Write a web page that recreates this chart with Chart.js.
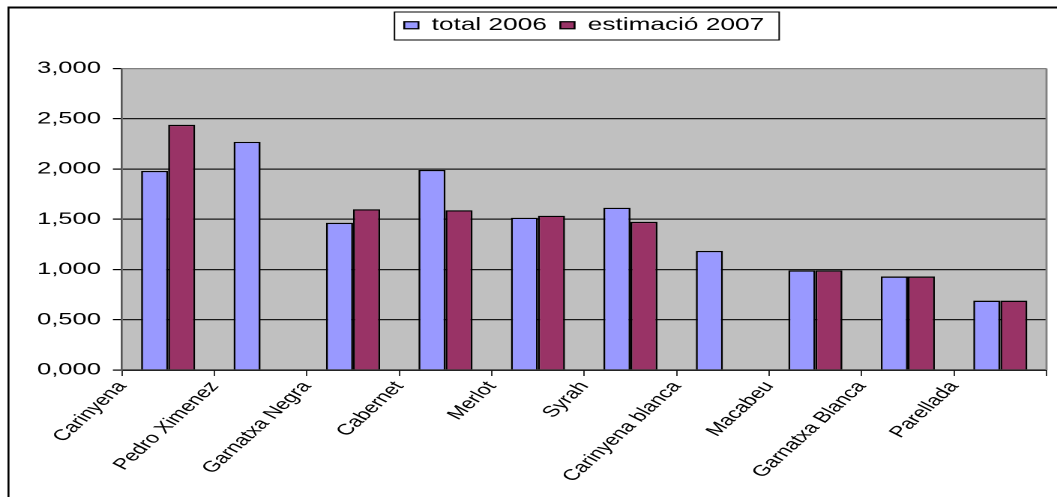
<!DOCTYPE html>
<html>
<head>
<meta charset="utf-8">
<title>Varietats de raïm</title>
<script src="https://cdn.jsdelivr.net/npm/chart.js@4.4.1/dist/chart.umd.min.js"></script>
<style>
  html, body { margin: 0; padding: 0; background: #fff; overflow: hidden; }
  /* the reference picture is stretched sideways, so the chart is drawn narrow and widened */
  #wrap { width: 705px; height: 497px; transform: scaleX(1.4993); transform-origin: 0 0; }
</style>
</head>
<body>
<div id="wrap"><canvas id="chart" width="705" height="497"></canvas></div>
<script>
// data
const categories = ['Carinyena', 'Pedro Ximenez', 'Garnatxa Negra', 'Cabernet', 'Merlot', 'Syrah', 'Carinyena blanca', 'Macabeu', 'Garnatxa Blanca', 'Parellada'];
const total2006 = [1.98, 2.27, 1.465, 1.99, 1.515, 1.615, 1.185, 0.99, 0.93, 0.69];
const estimacio2007 = [2.44, null, 1.60, 1.59, 1.535, 1.475, null, 0.99, 0.93, 0.69];
const yTickLabels = ['0,000', '0,500', '1,000', '1,500', '2,000', '2,500', '3,000'];

const FONT = '"Liberation Sans", Arial, sans-serif';

// grey plot area, framed legend and the outer chart border
const excelFrame = {
  id: 'excelFrame',
  beforeLayout(chart) {
    const legend = chart.legend;
    if (legend && !legend._spaced) {
      const fit = legend.fit;
      legend.fit = function () {
        fit.call(this);
        this.height += 24.5; // gap between legend and plot
      };
      legend._spaced = true;
    }
  },
  beforeDraw(chart) {
    const { ctx, chartArea: a } = chart;
    ctx.save();
    ctx.fillStyle = '#c0c0c0';
    ctx.fillRect(a.left, a.top, a.right - a.left, a.bottom - a.top);
    ctx.restore();
  },
  afterDraw(chart) {
    const { ctx, chartArea: a, legend } = chart;
    ctx.save();
    ctx.strokeStyle = '#808080';
    ctx.lineWidth = 1.4;
    ctx.beginPath();
    ctx.moveTo(a.right, a.top);
    ctx.lineTo(a.right, a.bottom);
    ctx.stroke();

    const boxes = legend.legendHitBoxes;
    if (boxes && boxes.length) {
      const first = boxes[0];
      const last = boxes[boxes.length - 1];
      const left = first.left - 6.5;
      const right = last.left + last.width + 10;
      ctx.strokeStyle = '#000';
      ctx.lineWidth = 1;
      ctx.strokeRect(left, first.top - 4.5, right - left, first.height + 10.5);
    }

    ctx.fillStyle = '#000';
    ctx.fillRect(5, 6.5, 1.3, chart.height);
    ctx.fillRect(5, 6.5, chart.width, 2);
    ctx.restore();
  }
};

new Chart(document.getElementById('chart'), {
  type: 'bar',
  data: {
    labels: categories,
    datasets: [
      {
        label: 'total 2006',
        data: total2006,
        backgroundColor: '#9999ff',
        borderColor: '#000',
        borderWidth: 1.3
      },
      {
        label: 'estimació 2007',
        data: estimacio2007,
        backgroundColor: '#993366',
        borderColor: '#000',
        borderWidth: 1.3
      }
    ]
  },
  options: {
    responsive: false,
    devicePixelRatio: 2,
    animation: false,
    datasets: {
      bar: { categoryPercentage: 0.585, barPercentage: 1.0 }
    },
    layout: { padding: { top: 7.5, left: 0, right: 7, bottom: 0 } },
    plugins: {
      legend: {
        position: 'top',
        fullSize: false,
        labels: {
          boxWidth: 9.5,
          boxHeight: 7,
          padding: 9,
          color: '#000',
          font: { family: FONT, size: 17.5 }
        }
      },
      tooltip: { enabled: false }
    },
    scales: {
      x: {
        offset: true,
        grid: {
          display: true,
          offset: true,
          drawOnChartArea: false,
          drawTicks: true,
          tickLength: 6,
          color: '#333'
        },
        border: { display: true, color: '#000', width: 1.3 },
        ticks: {
          autoSkip: false,
          minRotation: 53,
          maxRotation: 53,
          labelOffset: -30.8,
          padding: 2,
          color: '#000',
          font: { family: FONT, size: 15.5 }
        },
        afterFit(scale) { scale.height = 127; }
      },
      y: {
        min: 0,
        max: 3,
        ticks: {
          stepSize: 0.5,
          padding: 8,
          color: '#000',
          font: { family: FONT, size: 17 },
          callback: (value, index) => yTickLabels[index]
        },
        grid: {
          color: (c) => (c.tick && c.tick.value === 3 ? '#808080' : '#1a1a1a'),
          tickColor: '#000',
          tickLength: 6,
          lineWidth: 1.2
        },
        border: { color: '#555', width: 1.3 },
        afterFit(scale) { scale.width = 81.3; }
      }
    }
  },
  plugins: [excelFrame]
});
</script>
</body>
</html>
